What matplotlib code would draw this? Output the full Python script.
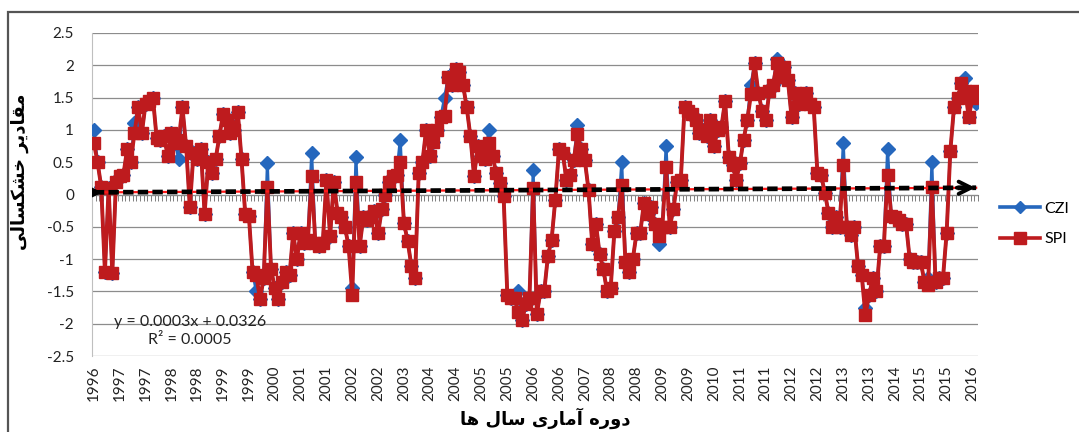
"""Monthly CZI / SPI drought index chart, 1996-2016."""

import matplotlib

matplotlib.use("Agg")
import matplotlib.pyplot as plt
from matplotlib.lines import Line2D
from matplotlib.patches import Rectangle
import numpy as np

# monthly values, June 1996 .. May 2016 (one row = 12 months)
SPI = [
    0.8, 0.5, 0.12, -1.2, 0.1, -1.22, 0.2, 0.28, 0.3, 0.7, 0.5, 0.95,
    1.35, 0.95, 1.4, 1.45, 1.5, 0.88, 0.85, 0.9, 0.6, 0.95, 0.8, 0.85,
    1.35, 0.75, -0.2, 0.65, 0.55, 0.7, -0.3, 0.5, 0.33, 0.55, 0.9, 1.25,
    1.15, 0.95, 1.0, 1.27, 0.55, -0.3, -0.33, -1.2, -1.25, -1.62, -1.3, 0.12,
    -1.15, -1.45, -1.62, -1.35, -1.2, -1.25, -0.6, -1.0, -0.6, -0.75, -0.7, 0.28,
    -0.75, -0.8, -0.75, 0.22, -0.65, 0.2, -0.28, -0.35, -0.5, -0.8, -1.55, 0.2,
    -0.8, -0.35, -0.4, -0.35, -0.25, -0.6, -0.23, 0.0, 0.2, 0.28, 0.3, 0.5,
    -0.44, -0.72, -1.1, -1.3, 0.33, 0.5, 1.0, 0.6, 0.82, 1.0, 1.2, 1.22,
    1.82, 1.7, 1.95, 1.9, 1.7, 1.35, 0.9, 0.28, 0.75, 0.6, 0.55, 0.8,
    0.6, 0.33, 0.18, -0.03, -1.55, -1.6, -1.6, -1.82, -1.95, -1.7, -1.6, 0.1,
    -1.85, -1.5, -1.5, -0.95, -0.7, -0.08, 0.7, 0.65, 0.23, 0.3, 0.53, 0.93,
    0.7, 0.53, 0.07, -0.77, -0.45, -0.92, -1.15, -1.5, -1.45, -0.57, -0.35, 0.15,
    -1.05, -1.2, -1.0, -0.6, -0.6, -0.13, -0.3, -0.2, -0.45, -0.65, -0.5, 0.42,
    -0.5, -0.23, 0.2, 0.23, 1.35, 1.3, 1.25, 1.15, 0.95, 1.0, 0.9, 1.15,
    0.75, 1.0, 1.05, 1.45, 0.58, 0.45, 0.23, 0.48, 0.85, 1.15, 1.55, 2.03,
    1.57, 1.3, 1.15, 1.6, 1.7, 2.03, 1.82, 1.97, 1.77, 1.2, 1.57, 1.4,
    1.5, 1.57, 1.4, 1.35, 0.33, 0.3, 0.03, -0.28, -0.5, -0.35, -0.5, 0.45,
    -0.5, -0.62, -0.5, -1.1, -1.25, -1.87, -1.55, -1.3, -1.5, -0.8, -0.8, 0.3,
    -0.33, -0.35, -0.4, -0.45, -0.45, -1.0, -1.05, -1.05, -1.05, -1.35, -1.4, 0.12,
    -1.35, -1.3, -1.3, -0.6, 0.67, 1.35, 1.5, 1.72, 1.6, 1.2, 1.5, 1.6,
]
CZI = [
    1.0, 0.5, 0.12, -1.2, 0.1, -1.22, 0.2, 0.28, 0.3, 0.7, 0.5, 1.1,
    1.35, 0.95, 1.4, 1.45, 1.5, 0.88, 0.85, 0.9, 0.6, 0.95, 0.8, 0.55,
    1.35, 0.75, -0.2, 0.65, 0.55, 0.7, -0.3, 0.5, 0.33, 0.55, 0.9, 1.25,
    1.15, 0.95, 1.0, 1.27, 0.55, -0.3, -0.33, -1.2, -1.5, -1.62, -1.3, 0.48,
    -1.15, -1.45, -1.62, -1.35, -1.2, -1.25, -0.6, -1.0, -0.6, -0.75, -0.7, 0.65,
    -0.75, -0.8, -0.75, 0.22, -0.65, 0.2, -0.28, -0.35, -0.5, -0.8, -1.45, 0.58,
    -0.8, -0.35, -0.4, -0.35, -0.25, -0.6, -0.23, 0.0, 0.2, 0.28, 0.3, 0.85,
    -0.44, -0.72, -1.1, -1.3, 0.33, 0.5, 1.0, 0.6, 0.82, 1.0, 1.2, 1.5,
    1.82, 1.7, 1.95, 1.9, 1.7, 1.35, 0.9, 0.28, 0.75, 0.6, 0.55, 1.0,
    0.6, 0.33, 0.18, -0.03, -1.55, -1.6, -1.6, -1.5, -1.95, -1.7, -1.6, 0.38,
    -1.85, -1.5, -1.5, -0.95, -0.7, -0.08, 0.7, 0.65, 0.23, 0.3, 0.53, 1.07,
    0.7, 0.53, 0.07, -0.77, -0.45, -0.92, -1.15, -1.5, -1.45, -0.57, -0.35, 0.5,
    -1.05, -1.2, -1.0, -0.6, -0.6, -0.13, -0.3, -0.2, -0.45, -0.77, -0.5, 0.75,
    -0.5, -0.23, 0.2, 0.23, 1.35, 1.3, 1.25, 1.15, 0.95, 1.0, 0.9, 1.15,
    0.75, 1.0, 1.05, 1.45, 0.58, 0.45, 0.23, 0.48, 0.85, 1.15, 1.7, 2.03,
    1.57, 1.3, 1.15, 1.6, 1.7, 2.1, 1.82, 1.97, 1.77, 1.2, 1.57, 1.4,
    1.5, 1.57, 1.4, 1.35, 0.33, 0.3, 0.03, -0.28, -0.5, -0.35, -0.5, 0.8,
    -0.5, -0.62, -0.5, -1.1, -1.25, -1.75, -1.55, -1.3, -1.5, -0.8, -0.8, 0.7,
    -0.33, -0.35, -0.4, -0.45, -0.45, -1.0, -1.05, -1.05, -1.05, -1.35, -1.3, 0.5,
    -1.35, -1.3, -1.3, -0.6, 0.67, 1.35, 1.5, 1.72, 1.8, 1.2, 1.5, 1.42,
]

# category labels, one every 7 months
LABEL_STEP = 7
TICK_YEARS = [
    "1996", "1997", "1997", "1998", "1998", "1999", "1999", "2000", "2001", "2001",
    "2002", "2002", "2003", "2004", "2004", "2005", "2005", "2006", "2006", "2007",
    "2008", "2008", "2009", "2009", "2010", "2011", "2011", "2012", "2012", "2013",
    "2013", "2014", "2015", "2015", "2016",
]
Y_TICKS = [-2.5, -2, -1.5, -1, -0.5, 0, 0.5, 1, 1.5, 2, 2.5]

TREND_SLOPE = 0.0003
TREND_INTERCEPT = 0.0326
EQUATION_TEXT = "y = 0.0003x + 0.0326"
R2_TEXT = "R² = 0.0005"

# Persian labels, written in shaped (presentation) forms in visual order
Y_LABEL = "ﯽﻟﺎﺴﮑﺸﺧ ﺮﯾﺩﺎﻘﻣ"   # مقادیر خشکسالی
X_LABEL = "ﺎﻫ ﻝﺎﺳ ﯼﺭﺎﻣﺁ ﻩﺭﻭﺩ"  # دوره آماری سال ها

CZI_COLOR = "#2567BD"
SPI_COLOR = "#BE1B1E"
GRID_COLOR = "#8C8C8C"
FONT = ["Lato", "DejaVu Sans"]


def main() -> None:
    plt.rcParams["font.family"] = FONT
    fig = plt.figure(figsize=(10.79, 4.32), dpi=100)
    ax = fig.add_axes([92 / 1079, 1 - 356 / 432, (978 - 92) / 1079, (356 - 33) / 432])

    x = np.arange(len(SPI)) + 0.5
    ax.plot(x, CZI, color=CZI_COLOR, linewidth=2.2, marker="D", markersize=7,
            markerfacecolor=CZI_COLOR, markeredgecolor=CZI_COLOR, zorder=3)
    ax.plot(x, SPI, color=SPI_COLOR, linewidth=2.8, marker="s", markersize=8.8,
            markerfacecolor=SPI_COLOR, markeredgecolor=SPI_COLOR, zorder=4)

    # linear trend (Excel numbers categories from 1)
    tx = np.array([0.5, len(SPI) - 0.5])
    ty = TREND_SLOPE * np.array([1, len(SPI)]) + TREND_INTERCEPT
    ax.plot(tx, ty, color="#FF1A1A", linewidth=1.6, zorder=5)
    ax.plot(tx, ty, color="black", linewidth=3.4, dashes=(2.2, 0.9), zorder=6)
    ax.plot(tx[:1], ty[:1], marker=">", color="black", markersize=8, zorder=7)
    ax.annotate("", xy=(tx[1] + 0.5, ty[1]), xytext=(tx[1] - 6, ty[1]),
                arrowprops=dict(arrowstyle="->", color="black", lw=2.8,
                                mutation_scale=22), zorder=7)

    ax.set_xlim(0, len(SPI))
    ax.set_ylim(Y_TICKS[0], Y_TICKS[-1])
    ax.set_yticks(Y_TICKS)
    ax.set_yticklabels([f"{v:g}" for v in Y_TICKS])
    ax.yaxis.grid(True, color=GRID_COLOR, linewidth=0.9)
    ax.set_axisbelow(True)

    label_pos = np.arange(len(TICK_YEARS)) * LABEL_STEP + 0.5
    ax.set_xticks(label_pos)
    ax.set_xticklabels(TICK_YEARS, rotation=90)
    ax.tick_params(axis="x", length=0, pad=7, labelsize=11, colors="#222222")
    ax.tick_params(axis="y", length=0, pad=13, labelsize=11, colors="#222222")
    for side in ("top", "right", "bottom"):
        ax.spines[side].set_visible(False)
    ax.spines["left"].set_color("#BFBFBF")

    # category axis crosses at zero with a tick per month
    cat = ax.secondary_xaxis(0.5)
    cat.set_alignment("bottom")
    cat.set_xticks(np.arange(0, len(SPI) + 1))
    cat.tick_params(direction="out", length=4, width=0.7, color="#7F7F7F", labelbottom=False)
    cat.spines["bottom"].set_color("#7F7F7F")

    ax.text(26.6, -1.97, EQUATION_TEXT, ha="center", va="center", fontsize=11.5, color="#222222")
    ax.text(26.6, -2.26, R2_TEXT, ha="center", va="center", fontsize=11.5, color="#222222")

    fig.text(20 / 1079, 1 - 172 / 432, Y_LABEL, rotation=90, ha="center", va="center",
             fontsize=13, fontweight="bold", family="DejaVu Sans")
    fig.text(545 / 1079, 1 - 418 / 432, X_LABEL, ha="center", va="center",
             fontsize=13, fontweight="bold", family="DejaVu Sans")

    handles = [
        Line2D([], [], color=CZI_COLOR, linewidth=2.6, marker="D", markersize=6.5),
        Line2D([], [], color=SPI_COLOR, linewidth=2.6, marker="s", markersize=9),
    ]
    fig.legend(handles, ["CZI", "SPI"], loc="center left",
               bbox_to_anchor=(1000 / 1079, 1 - 224 / 432), frameon=False,
               borderpad=0, borderaxespad=0, fontsize=11.5, handlelength=2.5,
               handletextpad=0.3, labelspacing=1.0)

    fig.patches.append(Rectangle((8 / 1079, -0.05), 1.2, 1.05 - 12 / 432, transform=fig.transFigure,
                                 fill=False, edgecolor="#555555", linewidth=1.6))
    fig.savefig("out.png", dpi=100, facecolor="white")
    plt.close(fig)


if __name__ == "__main__":
    main()
